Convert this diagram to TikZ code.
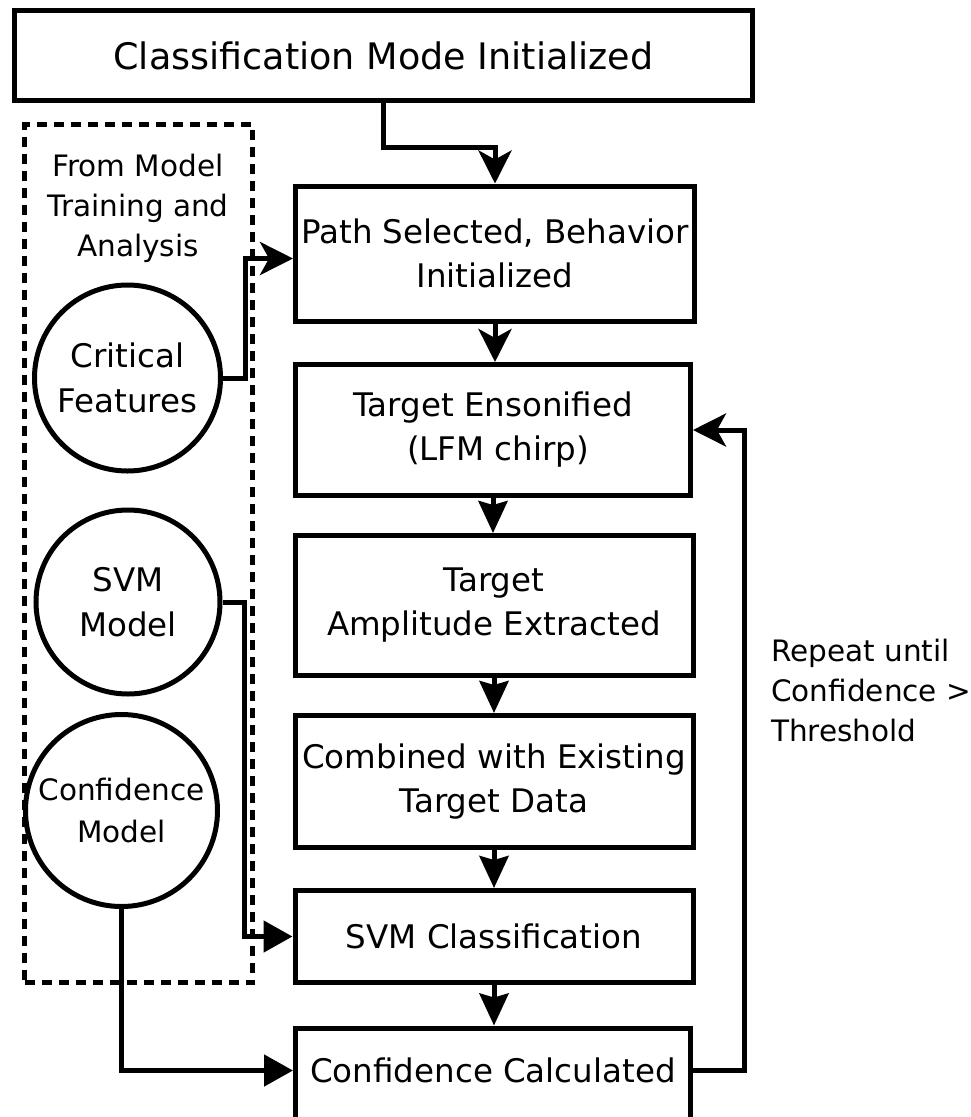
\documentclass[tikz,border=0pt]{standalone}
\usepackage{fontspec}
\setmainfont{DejaVu Sans}
\usetikzlibrary{arrows.meta,calc}

\tikzset{
  lw/.style={line width=5pt},
  stepbox/.style={draw, lw, rectangle, inner sep=0pt, align=center,
    font=\fontsize{32.5}{44}\selectfont},
  titlebox/.style={stepbox, font=\fontsize{36.5}{44}\selectfont},
  srcnode/.style={draw, lw, circle, inner sep=0pt, align=center,
    font=\fontsize{32.5}{45}\selectfont},
  grpbox/.style={draw, line width=5pt, dash pattern=on 10pt off 7pt, rectangle},
  smalltext/.style={align=center, inner sep=0pt, font=\fontsize{29.5}{40}\selectfont},
  arrS/.style={lw, -{Stealth[length=33pt,width=33pt,inset=9pt]}},
  arrM/.style={lw, -{Stealth[length=32pt,width=29pt,inset=4pt]}},
  arrT/.style={lw, -{Triangle[length=29pt,width=31pt]}},
}

\begin{document}
\begin{tikzpicture}[x=1pt,y=-1pt]
  \useasboundingbox (0,0) rectangle (970,1117);
  \clip (0,0) rectangle (970,1117);

  % header
  \node[titlebox, minimum width=738, minimum height=90] (title) at (383.5,55.5)
    {Classification Mode Initialized};

  % inputs coming from the training stage
  \node[grpbox, minimum width=228, minimum height=858] (grp) at (138.5,553.5) {};
  \node[smalltext] (src) at (138,208) {From Model\\Training and\\Analysis};
  \node[srcnode, minimum size=186] (cf) at (127.5,378) {Critical\\Features};
  \node[srcnode, minimum size=184] (svm) at (128,602) {SVM\\Model};
  \node[srcnode, minimum size=192, font=\fontsize{29.5}{42}\selectfont]
    (conf) at (121.5,810.5) {Confidence\\Model};

  % main processing chain
  \node[stepbox, minimum width=399, minimum height=135] (b1) at (495,253.5)
    {Path Selected, Behavior\\Initialized};
  \node[stepbox, minimum width=395, minimum height=131] (b2) at (493,430)
    {Target Ensonified\\\ (LFM chirp)};
  \node[stepbox, minimum width=398, minimum height=140] (b3) at (494,605.5)
    {Target\\Amplitude Extracted};
  \node[stepbox, minimum width=398, minimum height=132] (b4) at (494,781.5)
    {Combined with Existing\\Target Data};
  \node[stepbox, minimum width=398, minimum height=92] (b5) at (494,936.5)
    {SVM Classification};
  \node[stepbox, minimum width=395, minimum height=135, text height=23pt, text depth=50pt,
    anchor=north] (b6) at (493,1025.5) {Confidence Calculated};

  \node[smalltext, align=left, anchor=west] (rep) at (771,690)
    {Repeat until\\Confidence >\\Threshold};

  % connection points
  \coordinate (b6in) at ($(b6.north west)+(0,45)$);
  \coordinate (b6out) at ($(b6.north east)+(0,45)$);
  \coordinate (b1in) at ($(b1.west)+(0,5)$);

  % connectors
  \draw[arrS] (title.south) -- ++(0,44.5) -| (b1.north);
  \draw[arrS] (b1.south) -- (b1.south |- b2.north);
  \draw[arrM] (b2.south) -- (b2.south |- b3.north);
  \draw[arrM] (b3.south) -- (b3.south |- b4.north);
  \draw[arrM] (b4.south) -- (b4.south |- b5.north);
  \draw[arrM] (b5.south) -- (b5.south |- b6.north);

  \draw[arrS] (cf.east) -- ++(22,0) |- (b1in);
  \draw[arrT] (svm.east) -- ++(22,0) |- (b5.west);
  \draw[arrT] (conf.south) |- (b6in);

  \draw[arrS] (b6out) -- ++(51.5,0) |- (b2.east);
\end{tikzpicture}
\end{document}
